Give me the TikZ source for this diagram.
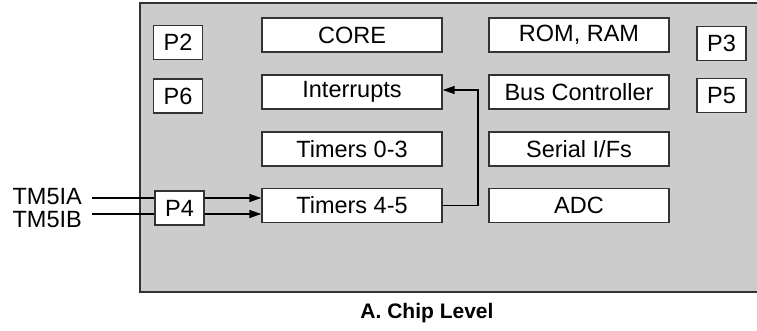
\documentclass[tikz,border=0pt]{standalone}
\usepackage{fontspec}
\setmainfont{Liberation Sans}
\usetikzlibrary{arrows.meta}
\definecolor{chipgray}{HTML}{CCCCCC}
\definecolor{edge}{HTML}{333333}
\tikzset{
  blk/.style={draw=edge, line width=1.4pt, fill=white, minimum width=180pt, minimum height=34pt, inner sep=0pt, font=\fontsize{23.5}{26}\selectfont},
  port/.style={draw=edge, line width=1.4pt, fill=white, minimum width=49pt, minimum height=34pt, inner sep=0pt, font=\fontsize{23.5}{26}\selectfont},
  sig/.style={font=\fontsize{23.5}{26}\selectfont, inner sep=0pt},
  wire/.style={line width=1.3pt, black},
  arr/.style={wire, -{Triangle[length=12pt,width=8pt]}}
}
\begin{document}
\begin{tikzpicture}[x=1pt,y=-1pt]
\useasboundingbox (0,0) rectangle (757,330);
\clip (0,0) rectangle (757,330);
\fill[chipgray, draw=edge, line width=1.4pt] (140,3) rectangle (770,292);
\node[port] (p2) at (178,42.5) {P2};
\node[port] (p6) at (178,96) {P6};
\node[port] (p4) at (179.5,208) {P4};
\node[port] (p3) at (721.5,43.5) {P3};
\node[port] (p5) at (721.5,95.5) {P5};
\node[blk] (core) at (352,35) {CORE};
\node[blk] (intr) at (352,92) {Interrupts};
\node[blk] (t03) at (352,149) {Timers 0-3};
\node[blk] (t45) at (352,205.5) {Timers 4-5};
\node[blk] (mem) at (579,35) {ROM, RAM};
\node[blk] (bus) at (579,92) {Bus Controller};
\node[blk] (ser) at (579,149) {Serial I/Fs};
\node[blk] (adc) at (579,205.5) {ADC};
\node[sig, anchor=east] (ia) at (82,196.5) {TM5IA};
\node[sig, anchor=east] (ib) at (82,219.5) {TM5IB};
\coordinate (ia0) at (92,198);
\coordinate (ib0) at (92,214);
\draw[wire] (ia0) -- (ia0 -| p4.west);
\draw[wire] (ib0) -- (ib0 -| p4.west);
\draw[arr] (ia0 -| p4.east) -- (ia0 -| t45.west);
\draw[arr] (ib0 -| p4.east) -- (ib0 -| t45.west);
\coordinate (fb) at (478,0);
\draw[arr] (t45.east) -- (t45.east -| fb) -- ([yshift=2pt]intr.east -| fb) -- ([yshift=2pt]intr.east);
\node[font=\bfseries\fontsize{21}{24}\selectfont] (cap) at (427,313) {A. Chip Level};
\end{tikzpicture}
\end{document}
